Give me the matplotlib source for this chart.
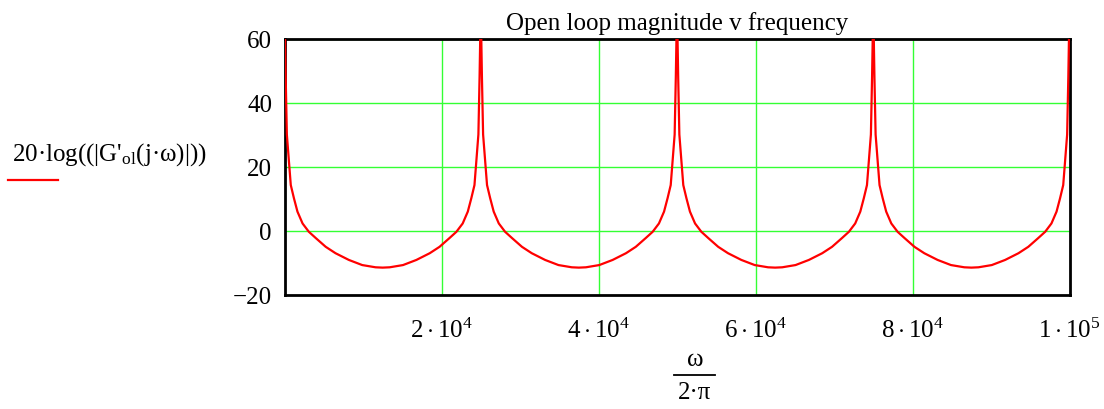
import matplotlib
matplotlib.use('Agg')
import matplotlib.pyplot as plt
from matplotlib.lines import Line2D

plt.rcParams['font.family'] = ['Liberation Serif', 'DejaVu Serif']
plt.rcParams['mathtext.fontset'] = 'custom'
plt.rcParams['mathtext.rm'] = 'Liberation Serif'
plt.rcParams['mathtext.it'] = 'Liberation Serif'
plt.rcParams['mathtext.bf'] = 'Liberation Serif:bold'

# frequency (Hz), four identical arches between poles
freq = [0, 150, 300, 600, 800, 1200, 1650, 2300, 3100, 4000, 5250, 6500, 8200, 9900, 11600, 12500,
        13400, 15100, 16800, 18500, 19750, 21000, 21900, 22700, 23350, 23800, 24200, 24400, 24700, 24850,
        25000, 25150, 25300, 25600, 25800, 26200, 26650, 27300, 28100, 29000, 30250, 31500, 33200, 34900,
        36600, 37500, 38400, 40100, 41800, 43500, 44750, 46000, 46900, 47700, 48350, 48800, 49200, 49400,
        49700, 49850,
        50000, 50150, 50300, 50600, 50800, 51200, 51650, 52300, 53100, 54000, 55250, 56500, 58200, 59900,
        61600, 62500, 63400, 65100, 66800, 68500, 69750, 71000, 71900, 72700, 73350, 73800, 74200, 74400,
        74700, 74850,
        75000, 75150, 75300, 75600, 75800, 76200, 76650, 77300, 78100, 79000, 80250, 81500, 83200, 84900,
        86600, 87500, 88400, 90100, 91800, 93500, 94750, 96000, 96900, 97700, 98350, 98800, 99200, 99400,
        99700, 99850, 100000]

# open loop magnitude, dB
mag = [70, 48, 30, 20.5, 14.2, 10.1, 5.9, 2.2, -0.4, -2.4, -5.1, -7.1, -9.2, -10.8, -11.5, -11.6,
       -11.5, -10.8, -9.2, -7.1, -5.1, -2.4, -0.4, 2.2, 5.9, 10.1, 14.2, 20.5, 30, 48,
       70, 48, 30, 20.5, 14.2, 10.1, 5.9, 2.2, -0.4, -2.4, -5.1, -7.1, -9.2, -10.8,
       -11.5, -11.6, -11.5, -10.8, -9.2, -7.1, -5.1, -2.4, -0.4, 2.2, 5.9, 10.1, 14.2, 20.5,
       30, 48,
       70, 48, 30, 20.5, 14.2, 10.1, 5.9, 2.2, -0.4, -2.4, -5.1, -7.1, -9.2, -10.8,
       -11.5, -11.6, -11.5, -10.8, -9.2, -7.1, -5.1, -2.4, -0.4, 2.2, 5.9, 10.1, 14.2, 20.5,
       30, 48,
       70, 48, 30, 20.5, 14.2, 10.1, 5.9, 2.2, -0.4, -2.4, -5.1, -7.1, -9.2, -10.8,
       -11.5, -11.6, -11.5, -10.8, -9.2, -7.1, -5.1, -2.4, -0.4, 2.2, 5.9, 10.1, 14.2, 20.5,
       30, 48, 70]

xticks = [20000, 40000, 60000, 80000, 100000]
xticklabels = [r'$2\cdot10^{4}$', r'$4\cdot10^{4}$', r'$6\cdot10^{4}$', r'$8\cdot10^{4}$', r'$1\cdot10^{5}$']
yticks = [-20, 0, 20, 40, 60]
yticklabels = ['\u221220', '0', '20', '40', '60']

FS = 18
GREEN = '#33ff33'

fig = plt.figure(figsize=(11.04, 4.10), dpi=100)
ax = fig.add_axes([284.5 / 1104, 1 - 295.5 / 410, 785 / 1104, 256 / 410])

ax.plot(freq, mag, color='red', linewidth=1.6, zorder=3)

ax.set_xlim(0, 100000)
ax.set_ylim(-20, 60)
ax.set_xticks(xticks)
ax.set_xticklabels(xticklabels, fontsize=FS)
ax.set_yticks(yticks)
ax.set_yticklabels(yticklabels, fontsize=FS)
ax.tick_params(axis='both', length=0)
ax.tick_params(axis='x', pad=17)
ax.tick_params(axis='y', pad=9)

# grid
for gx in [20000, 40000, 60000, 80000]:
    ax.axvline(gx, color=GREEN, linewidth=1, zorder=1)
for gy in [0, 20, 40, 60]:
    ax.axhline(gy, color=GREEN, linewidth=1, zorder=1)

for s in ax.spines.values():
    s.set_color('black')
    s.set_linewidth(2)

ax.set_title('Open loop magnitude v frequency', fontsize=FS, pad=7)

# y label with legend sample
fig.text(12 / 1104, 1 - 155 / 410,
         "20\u00b7log((|G'$_{\\mathrm{ol}}$(j\u00b7\u03c9)|))",
         fontsize=FS, ha='left', va='center')
fig.add_artist(Line2D([8 / 1104, 58 / 1104], [1 - 181 / 410, 1 - 181 / 410],
                      color='red', linewidth=1.6))

# x label as a fraction
fig.text(695 / 1104, 1 - 360 / 410, '\u03c9', fontsize=FS, ha='center', va='center')
fig.add_artist(Line2D([674 / 1104, 715 / 1104], [1 - 376 / 410, 1 - 376 / 410],
                      color='black', linewidth=1.3))
fig.text(695 / 1104, 1 - 393 / 410, '2\u00b7\u03c0', fontsize=FS, ha='center', va='center')

fig.savefig('out.png', dpi=100)
